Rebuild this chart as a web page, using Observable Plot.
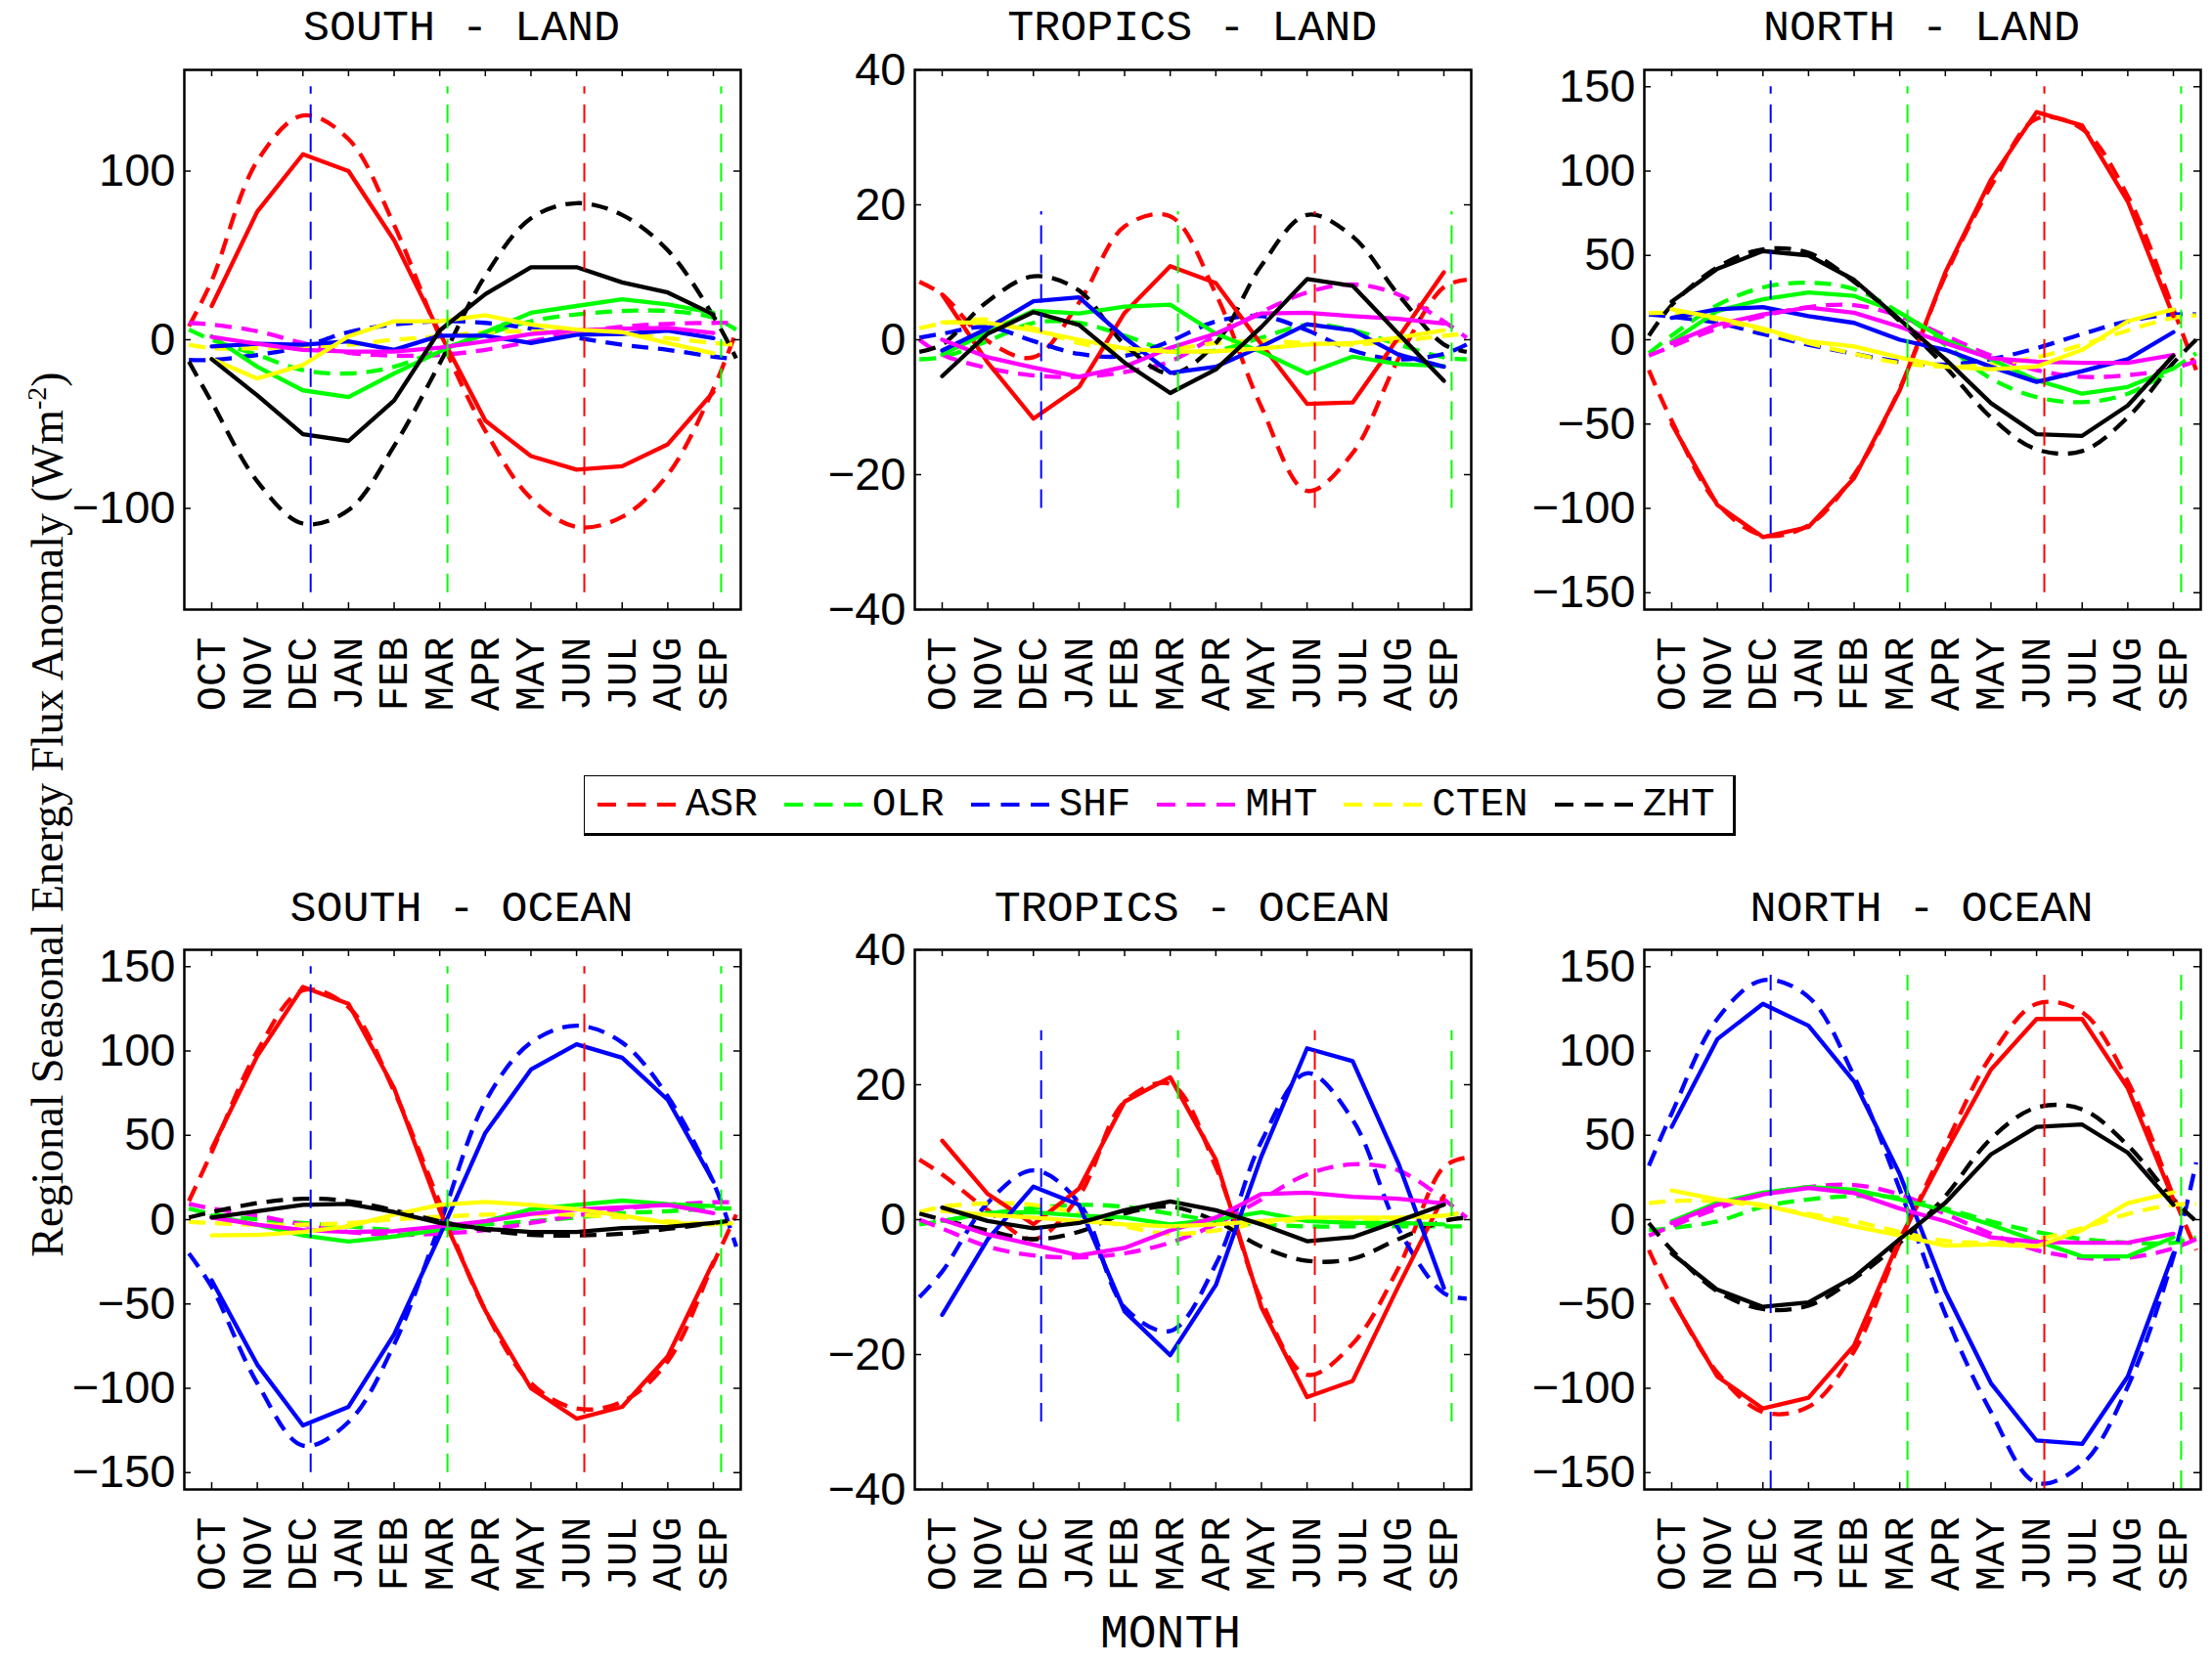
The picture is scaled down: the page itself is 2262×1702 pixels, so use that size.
<!DOCTYPE html>
<html>
<head>
<meta charset="utf-8">
<script src="https://cdn.jsdelivr.net/npm/d3@7"></script>
<script src="https://cdn.jsdelivr.net/npm/@observablehq/plot@0.6"></script>
<style>
  html, body { margin: 0; padding: 0; background: #fff; }
  #root { position: relative; width: 2262px; height: 1702px; overflow: hidden; background: #fff; }
  .title { position: absolute; font-family: "Liberation Mono", monospace; font-size: 45px; line-height: 1; white-space: pre; transform: translate(-50%, -50%); color: #000; z-index: 5; }
  #ylabel { position: absolute; left: 48px; top: 833px; transform: translate(-50%, -50%) rotate(-90deg); font-family: "Liberation Serif", serif; font-size: 46px; white-space: nowrap; z-index: 10; line-height: 1; }
  #ylabel sup { font-size: 28px; }
  #xlabel { position: absolute; left: 1197px; top: 1648px; transform: translateX(-50%); font-family: "Liberation Mono", monospace; font-size: 48px; line-height: 1; z-index: 10; }
  #legend { position: absolute; left: 597px; top: 793px; width: 1178px; height: 62px; box-sizing: border-box; border-top: 1.5px solid #000; border-left: 1.5px solid #000; border-right: 3px solid #000; border-bottom: 3px solid #000; display: flex; align-items: center; padding-left: 13px; font-family: "Liberation Mono", monospace; font-size: 41px; z-index: 10; background: #fff; }
  #legend .item { display: flex; align-items: center; }
  #legend .lab { margin-left: 10px; margin-right: 27px; line-height: 1; }
  svg.panel { position: absolute; }
</style>
</head>
<body>
<div id="root"></div>
<script>
// ---------- categories ----------
const monthNames = ["OCT","NOV","DEC","JAN","FEB","MAR","APR","MAY","JUN","JUL","AUG","SEP"];
const monthIndex = [1,2,3,4,5,6,7,8,9,10,11,12];
const fitX = [0.5,1,2,3,4,5,6,7,8,9,10,11,12,12.5];
const seriesNames = ["ASR","OLR","SHF","MHT","CTEN","ZHT"];
const seriesColors = ["#ff0000","#00ff00","#0000ff","#ff00ff","#ffff00","#000000"];
// solstice / equinox markers (DEC, MAR, JUN, SEP)
const markerX = [3.17, 6.17, 9.17, 12.17];
const markerColors = ["#0000ff","#00ff00","#ff0000","#00ff00"];

// ---------- SOUTH - LAND ----------
const southLandMonthly = {
  ASR:  [20, 76, 110, 100, 59, 4, -48, -69, -77, -75, -62, -31],
  OLR:  [2, -16, -30, -34, -20, -7, 4.5, 16, 20, 24, 21, 16],
  SHF:  [-4, -2.4, -3, -1, -6, 2.4, 2.4, -2, 3, 3.4, 5.5, 1],
  MHT:  [1.7, -2.4, -6, -7, -7, -4.7, -1, 3.4, 5.5, 6.6, 7, 4],
  CTEN: [-11.5, -23, -15, 2, 11, 11, 14.5, 9, 6, 4.5, -2, -8],
  ZHT:  [-11.5, -33, -56, -60, -36, 5.5, 27, 43, 43, 34, 28, 15]
};
const southLandFit = {
  ASR:  [8, 35, 106, 133, 119, 68, 2, -54, -94, -111, -105, -80, -29, 5],
  OLR:  [6, 0, -9, -18, -20, -16, -6, 3, 11, 15, 17, 17, 13, 6],
  SHF:  [-12, -12, -9, -4, 4.5, 9, 11, 10, 6.6, 1.3, -3, -6, -10, -11.5],
  MHT:  [10, 9, 5, -2, -7.7, -9.4, -9, -6, -1, 4.5, 7.7, 9.4, 10, 10],
  CTEN: [-3, -5, -5, -4, -3, 0, 2, 4.5, 5, 4.5, 3.4, 1, -2, -3],
  ZHT:  [-13, -37, -84, -109, -101, -63, -14, 38, 72, 81, 74, 53, 14, -11]
};

// ---------- TROPICS - LAND ----------
const tropicsLandMonthly = {
  ASR:  [6.7, -3.4, -11.7, -7, 4, 10.9, 8.4, -0.7, -9.5, -9.3, 0.3, 10],
  OLR:  [-2.2, 1.1, 4.3, 3.9, 4.9, 5.2, 0.9, -1.8, -5, -2.5, -3.6, -3.9],
  SHF:  [-1.6, 1.7, 5.7, 6.3, 0.3, -4.9, -4, -1, 2.3, 1.4, -2.2, -4],
  MHT:  [0, -2.6, -4.1, -5.5, -4, -1.2, 0.9, 3.9, 4, 3.5, 3.1, 2.4],
  CTEN: [2.6, 2.5, 1.4, 0, -1.3, -1.8, -1.7, -1.3, -0.7, -0.5, 0.3, 1.4],
  ZHT:  [-5.4, 0.9, 4.1, 2.2, -3.4, -7.9, -4.4, 1.9, 9, 8, 0.9, -6.1]
};
const tropicsLandFit = {
  ASR:  [8.6, 6.7, -0.2, -2.6, 5.5, 16.8, 18.3, 6.8, -10, -22.4, -16.8, -2.9, 7.8, 8.9],
  OLR:  [-2.9, -2.6, -0.2, 2.5, 2.5, 0.6, -1.6, -1.6, 0.3, 2.2, 1.4, -0.7, -2.6, -2.9],
  SHF:  [0.3, 0.9, 1.9, -0.2, -2.1, -2.4, -0.2, 2.7, 3.5, 1.4, -1.6, -2.9, -2.1, -0.7],
  MHT:  [0, -2.2, -4.2, -5.3, -5.5, -4.8, -3.2, 0.6, 4.1, 7, 8.2, 6.7, 2.7, 0.3],
  CTEN: [1.7, 2.4, 3, 1.7, -0.5, -1.6, -1.4, -0.5, -0.2, -0.5, -0.7, -0.2, 0.6, 0.9],
  ZHT:  [-1.8, -0.7, 5.7, 9.4, 7.3, -0.7, -5, -0.5, 11, 18.5, 15.3, 6.7, -0.7, -1.8]
};

// ---------- NORTH - LAND ----------
const northLandMonthly = {
  ASR:  [-50, -98, -117, -111, -82, -30, 40, 95, 135, 127, 82, 14],
  OLR:  [-1, 17, 24, 28, 26, 16, 0, -11.5, -24, -32, -28, -17],
  SHF:  [13, 18, 19.4, 14, 10, 0, -6, -16, -25, -18.6, -11.5, 4.5],
  MHT:  [-2, 9, 15, 19, 16, 7.7, -2, -11, -13, -13.7, -13.7, -9],
  CTEN: [18, 13, 6.6, -1, -4, -10.5, -16, -17.5, -16, -6, 11, 18],
  ZHT:  [22.6, 42, 52.6, 50, 35.5, 12, -11.5, -37.6, -56, -57, -39, -9.4]
};
const northLandFit = {
  ASR:  [-18, -48, -97, -116, -110, -80, -29, 38, 91, 131, 125, 85, 18, -18],
  OLR:  [-8, 2.4, 20.5, 31, 33.8, 30, 16, -3, -23, -34, -37, -32, -17, -8],
  SHF:  [15, 13.7, 10, 3.4, -3, -8.3, -13, -14.7, -11.5, -5, 3.4, 11, 15, 15],
  MHT:  [-9.4, -4, 6.6, 14, 19.4, 20.5, 14, 2.4, -9.4, -18, -22, -21, -17, -12.6],
  CTEN: [15.8, 15.8, 12, 5.5, -2, -8.3, -13.7, -16, -14.7, -10.5, -3, 5.5, 13, 14.5],
  ZHT:  [2.4, 20.5, 43, 53.6, 51.5, 34.4, 11, -16, -46, -65, -66, -46, -13.7, 0]
};

// ---------- SOUTH - OCEAN ----------
const southOceanMonthly = {
  ASR:  [42, 97, 138, 128, 78, 5.5, -54, -100, -118, -111, -81, -25],
  OLR:  [2.4, -3, -9.4, -13, -10, -6, -1, 6.2, 8.8, 11.3, 9.2, 8.1],
  SHF:  [-36, -86, -122, -111, -68, -9.4, 51.5, 89, 104, 96, 71, 22.6],
  MHT:  [1.3, -3, -6.2, -7.3, -6.8, -4, -1, 3.4, 6, 7.3, 8.8, 3.8],
  CTEN: [-9.4, -9, -7.3, -4, 3, 8.8, 10.5, 8.8, 6.2, 2.4, -2, -3],
  ZHT:  [1.3, 5, 8.8, 9.4, 4.5, -2, -5.5, -7.3, -7.3, -5, -4.3, -2]
};
const southOceanFit = {
  ASR:  [11, 40, 100, 136, 126, 76, 10, -54, -97, -112, -108, -84, -26, 3],
  OLR:  [6.6, 3.4, 0.2, -2, -4, -6.2, -6.2, -3, -1, 1.3, 3.8, 5, 6.6, 6.6],
  SHF:  [-20, -40, -97, -134, -120, -74, -3, 70, 105, 115, 105, 73, 22, -16],
  MHT:  [9.4, 6.6, 2.4, -3, -7.3, -9, -8.3, -6.2, -2, 2.4, 6.6, 8.8, 10.3, 10.3],
  CTEN: [-1.3, -2, -3, -3, -2, 0.2, 1.7, 3, 3.4, 2.8, 1.3, -1, -2.6, -2],
  ZHT:  [1.3, 4.5, 9.8, 12.4, 11, 5.5, -1, -6, -9, -9.4, -8.3, -5.5, -2, 0]
};

// ---------- TROPICS - OCEAN ----------
const tropicsOceanMonthly = {
  ASR:  [11.7, 3.8, -0.7, 4.6, 17.5, 21.1, 8.9, -13, -26.3, -23.9, -9.9, 3.5],
  OLR:  [-0.2, 1, 1.1, 0.6, 0.3, -0.7, 0, 1.1, -0.2, -0.5, -0.5, -0.7],
  SHF:  [-14.1, -2.9, 4.9, 2.2, -13.6, -20.1, -9.7, 9.4, 25.4, 23.5, 8.4, -10.1],
  MHT:  [0, -2.2, -3.7, -5.3, -4.2, -1.6, 0.3, 3.8, 4, 3.4, 3.1, 2.4],
  CTEN: [1.3, 0.7, 0.3, -0.2, -0.7, -1, -0.7, -0.2, 0.3, 0.3, 0.3, 0.6],
  ZHT:  [1.8, -0.2, -1.3, -0.5, 1.4, 2.7, 1.4, -0.7, -3.2, -2.6, -0.2, 2.2]
};
const tropicsOceanFit = {
  ASR:  [8.9, 6.7, 1.4, -2.9, 3.5, 17.5, 20.1, 7.8, -12, -23, -18.4, -7.2, 7.8, 9.2],
  OLR:  [-0.7, -0.2, 0.9, 1.7, 2.2, 1.9, 0.9, -0.2, -0.7, -1, -1, -1, -1, -1],
  SHF:  [-11.5, -7.7, 2.5, 7.3, 2.5, -13, -16.5, -6.6, 11.6, 21.7, 14.8, -1.3, -10.9, -11.7],
  MHT:  [0, -1.3, -4, -5.3, -5.6, -5, -3.4, -0.7, 3, 6.7, 8.2, 7.3, 3, 0.3],
  CTEN: [1.1, 1.9, 2.4, 2.2, 0.9, -1, -2.1, -1.6, -0.5, 0, 0, 0, 0.6, 1.1],
  ZHT:  [0.9, 0, -1.6, -2.9, -1.8, 0.9, 1.9, -0.2, -4, -6.1, -5.8, -2.9, -0.2, 0.3]
};

// ---------- NORTH - OCEAN ----------
const northOceanMonthly = {
  ASR:  [-47, -93, -112, -105.6, -74.6, -11.5, 40, 89, 119, 119, 78, 12],
  OLR:  [-1, 10, 16, 19.4, 17.7, 12, 5.5, -3, -12.6, -21.8, -21.8, -10.5],
  SHF:  [55, 107, 128, 115, 82, 27, -42.5, -97, -131, -133, -93, -20],
  MHT:  [-2, 8.8, 15, 18.8, 15.8, 6.6, -1, -10.5, -13.2, -13.7, -13.7, -8.3],
  CTEN: [17.3, 12, 8.8, 2.4, -4, -9.4, -15.4, -14.7, -15.8, -6.2, 9.8, 16.2],
  ZHT:  [-20, -41.5, -51.7, -49, -34, -11.5, 10, 38.7, 55, 56.4, 39.7, 8.8]
};
const northOceanFit = {
  ASR:  [-18, -46, -90.6, -114, -111, -78, -13.7, 44, 97, 128, 123, 82, 14, -18],
  OLR:  [-6.2, -5, -1, 7.7, 12, 14, 13, 6.6, -1, -7.3, -11.5, -13.7, -13.7, -10.5],
  SHF:  [32, 63, 119, 142, 132, 85, 18, -56, -114, -156, -145, -99, -22, 34],
  MHT:  [-9.4, -4, 6.6, 15, 19.4, 20.5, 15, 3.4, -8.3, -18, -22.6, -22.6, -17, -11.5],
  CTEN: [9.8, 11, 11, 7.7, 3.4, -1, -7.3, -12.6, -13.7, -11.5, -5, 3.4, 8.8, 9.4],
  ZHT:  [-2, -18, -42.5, -53, -51, -35, -13.7, 14, 48, 66.5, 65.4, 44, 12, -1]
};

// ---------- axis ticks ----------
const ticksSouthLand = [-100, 0, 100];
const ticksWide = [-150, -100, -50, 0, 50, 100, 150];
const ticksTropics = [-40, -20, 0, 20, 40];

const panels = [
  {title: "SOUTH - LAND",    monthly: southLandMonthly,    fit: southLandFit,    yDomain: [-160, 160], yTicks: ticksSouthLand, markerRange: [-150, 150], col: 0, row: 0},
  {title: "TROPICS - LAND",  monthly: tropicsLandMonthly,  fit: tropicsLandFit,  yDomain: [-40, 40],   yTicks: ticksTropics,   markerRange: [-25, 19],   col: 1, row: 0},
  {title: "NORTH - LAND",    monthly: northLandMonthly,    fit: northLandFit,    yDomain: [-160, 160], yTicks: ticksWide,      markerRange: [-150, 150], col: 2, row: 0},
  {title: "SOUTH - OCEAN",   monthly: southOceanMonthly,   fit: southOceanFit,   yDomain: [-160, 160], yTicks: ticksWide,      markerRange: [-150, 150], col: 0, row: 1},
  {title: "TROPICS - OCEAN", monthly: tropicsOceanMonthly, fit: tropicsOceanFit, yDomain: [-40, 40],   yTicks: ticksTropics,   markerRange: [-30, 28],   col: 1, row: 1},
  {title: "NORTH - OCEAN",   monthly: northOceanMonthly,   fit: northOceanFit,   yDomain: [-160, 160], yTicks: ticksWide,      markerRange: [-160, 145], col: 2, row: 1}
];

// ---------- layout ----------
const colLeft = [187.5, 934.8, 1680.6];
const rowTop = [70.7, 970.9];
const titleY = [29, 930];
const frameW = 569, frameH = 552;
const M = {left: 140, right: 20, top: 30, bottom: 130};
const tickLen = 7;

const root = document.getElementById("root");

function drawPanel(p) {
  const fitRows = [], monRows = [];
  seriesNames.forEach((s, k) => {
    p.fit[s].forEach((v, i) => fitRows.push({x: fitX[i], y: v, c: seriesColors[k]}));
    p.monthly[s].forEach((v, i) => monRows.push({x: monthIndex[i], y: v, c: seriesColors[k]}));
  });
  const markers = markerX.map((x, i) => ({x, c: markerColors[i], y1: p.markerRange[0], y2: p.markerRange[1]}));
  const svg = Plot.plot({
    width: frameW + M.left + M.right,
    height: frameH + M.top + M.bottom,
    marginLeft: M.left, marginRight: M.right, marginTop: M.top, marginBottom: M.bottom,
    style: {background: "transparent", overflow: "visible"},
    x: {domain: [0.4, 12.6], label: null},
    y: {domain: p.yDomain, label: null},
    color: {type: "identity"},
    marks: [
      Plot.line(fitRows, {x: "x", y: "y", z: "c", stroke: "c", strokeWidth: 4.3, strokeDasharray: "17,10", strokeLinecap: "butt", curve: "catmull-rom", clip: true}),
      Plot.line(monRows, {x: "x", y: "y", z: "c", stroke: "c", strokeWidth: 4.3, clip: true}),
      Plot.ruleX(markers, {x: "x", y1: "y1", y2: "y2", stroke: "c", strokeWidth: 2, strokeDasharray: "19,11", clip: true}),
      Plot.ruleY(p.yTicks, {y: d => d, insetRight: frameW - tickLen, stroke: "black", strokeWidth: 1.5}),
      Plot.ruleY(p.yTicks, {y: d => d, insetLeft: frameW - tickLen, stroke: "black", strokeWidth: 1.5}),
      Plot.ruleX(monthIndex, {x: d => d, insetTop: frameH - tickLen, stroke: "black", strokeWidth: 1.5}),
      Plot.ruleX(monthIndex, {x: d => d, insetBottom: frameH - tickLen, stroke: "black", strokeWidth: 1.5}),
      Plot.frame({stroke: "black", strokeWidth: 2.5}),
      Plot.axisY({ticks: p.yTicks, tickSize: 0, tickPadding: 9, fontSize: 47, fontFamily: "Liberation Sans", label: null}),
      Plot.axisX({ticks: monthIndex, tickSize: 0, tickPadding: 28, tickRotate: -90, tickFormat: i => monthNames[i - 1], fontSize: 42, fontFamily: "Liberation Mono", label: null})
    ]
  });
  svg.classList.add("panel");
  svg.style.position = "absolute";
  svg.style.left = (colLeft[p.col] - M.left) + "px";
  svg.style.top = (rowTop[p.row] - M.top) + "px";
  svg.style.maxWidth = "none";
  root.appendChild(svg);

  const t = document.createElement("div");
  t.className = "title";
  t.textContent = p.title;
  t.style.left = (colLeft[p.col] + frameW / 2) + "px";
  t.style.top = titleY[p.row] + "px";
  root.appendChild(t);
}

panels.forEach(drawPanel);

// legend
const legend = document.createElement("div");
legend.id = "legend";
seriesNames.forEach((s, k) => {
  const item = document.createElement("div");
  item.className = "item";
  item.innerHTML = `<svg width="80" height="20"><line x1="0" x2="80" y1="10" y2="10" stroke="${seriesColors[k]}" stroke-width="4" stroke-dasharray="19,11.5"/></svg><span class="lab">${s}</span>`;
  legend.appendChild(item);
});
root.appendChild(legend);

const yl = document.createElement("div");
yl.id = "ylabel";
yl.innerHTML = "Regional Seasonal Energy Flux Anomaly (Wm<sup>-2</sup>)";
root.appendChild(yl);

const xl = document.createElement("div");
xl.id = "xlabel";
xl.textContent = "MONTH";
root.appendChild(xl);
</script>
</body>
</html>
